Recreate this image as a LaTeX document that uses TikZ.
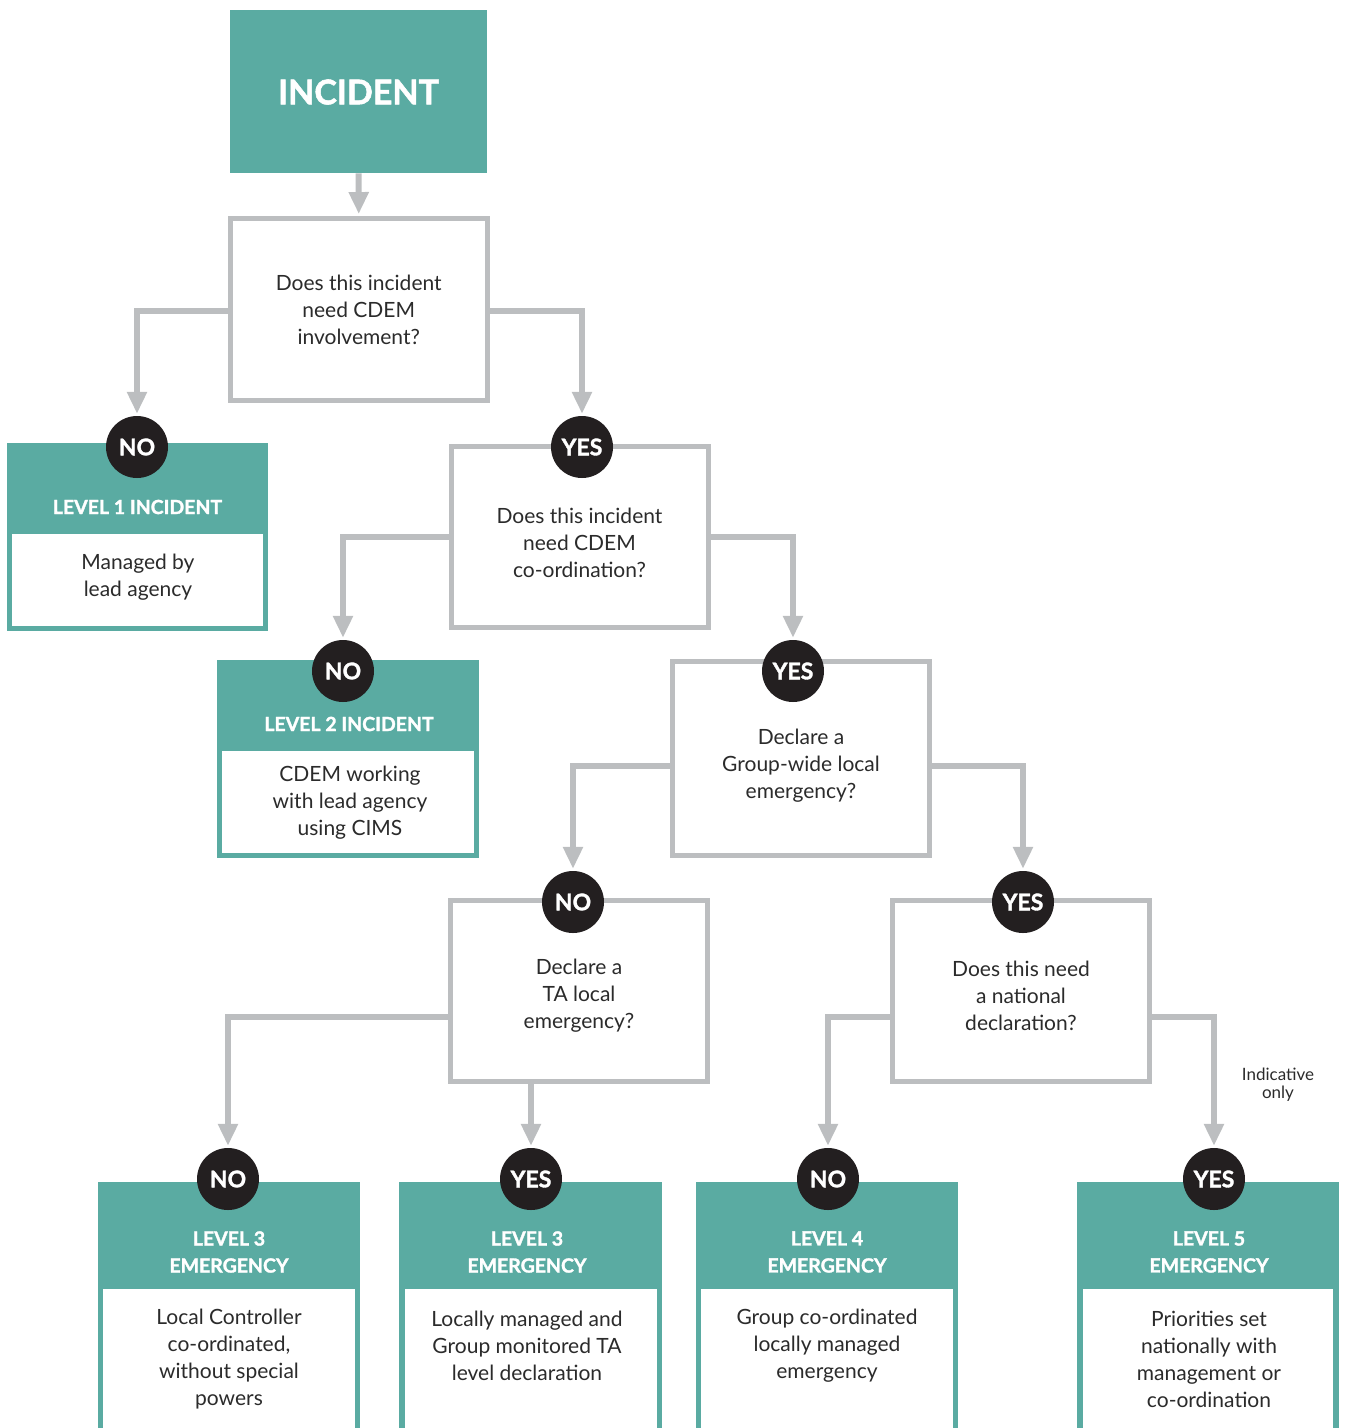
\documentclass[tikz,border=0pt]{standalone}
\usepackage{fontspec}
\setmainfont{Lato}
\newfontfamily\heavyfont{Lato}[BoldFeatures={FakeBold=1.6}]
\usetikzlibrary{arrows.meta}
\definecolor{tealc}{HTML}{5AABA2}
\definecolor{grayline}{HTML}{BCBEC0}
\definecolor{darkc}{HTML}{231F20}
\definecolor{txtc}{HTML}{2B2B2B}
\pgfdeclarelayer{front}
\pgfsetlayers{main,front}
\begin{document}
\begin{tikzpicture}[x=1pt,y=-1pt,
  qbox/.style={draw=grayline, line width=5pt, fill=white, minimum width=257pt, inner sep=0pt},
  qtext/.style={text=txtc, font=\fontsize{21}{27}\selectfont, align=center, inner sep=0pt},
  conn/.style={draw=grayline, line width=6pt, -{Triangle[length=22pt,width=19pt]}, shorten >=2pt},
  tealbox/.style={fill=tealc, inner sep=0pt, anchor=north west},
  whitebox/.style={fill=white, inner sep=0pt, anchor=north west},
  head/.style={text=white, font=\heavyfont\bfseries\fontsize{19.5}{27}\selectfont, align=center, inner sep=0pt},
  body/.style={text=txtc, font=\fontsize{21}{27}\selectfont, align=center, inner sep=0pt},
  badge/.style={circle, fill=darkc, minimum size=62pt, inner sep=0pt, text=white, font=\heavyfont\bfseries\fontsize{23}{23}\selectfont}
]
\useasboundingbox (0,0) rectangle (1346,1428);
\clip (0,0) rectangle (1346,1428);

% incident
\node[tealbox, minimum width=257pt, minimum height=163pt] (inc) at (230,10) {};
\node[text=white, font=\heavyfont\bfseries\fontsize{34}{40}\selectfont, inner sep=0pt] (inct) at (358.5,92) {INCIDENT};

% level 1
\node[tealbox, minimum width=261pt, minimum height=188pt] (l1) at (7,443) {};
\node[whitebox, minimum width=251pt, minimum height=92pt] (l1w) at (12,534) {};
\node[head] (l1h) at (137.5,507) {LEVEL 1 INCIDENT};
\node[body] (l1b) at (138,577) {Managed by\\lead agency};

% level 2
\node[tealbox, minimum width=262pt, minimum height=198pt] (l2) at (217,660) {};
\node[whitebox, minimum width=252pt, minimum height=102pt] (l2w) at (222,751) {};
\node[head] (l2h) at (349,724) {LEVEL 2 INCIDENT};
\node[body] (l2b) at (350,803) {CDEM working\\with lead agency\\using CIMS};

% level 3a
\node[tealbox, minimum width=262pt, minimum height=260pt] (l3a) at (98,1182) {};
\node[whitebox, minimum width=252pt, minimum height=160pt] (l3aw) at (103,1289) {};
\node[head] (l3ah) at (229,1252) {LEVEL 3\\EMERGENCY};
\node[body] (l3ab) at (229,1359) {Local Controller\\co-ordinated,\\without special\\powers};

% level 3b
\node[tealbox, minimum width=263pt, minimum height=260pt] (l3b) at (399,1182) {};
\node[whitebox, minimum width=252pt, minimum height=160pt] (l3bw) at (405,1289) {};
\node[head] (l3bh) at (527,1252) {LEVEL 3\\EMERGENCY};
\node[body] (l3bb) at (527,1346) {Locally managed and\\Group monitored TA\\level declaration};

% level 4
\node[tealbox, minimum width=262pt, minimum height=260pt] (l4) at (696,1182) {};
\node[whitebox, minimum width=252pt, minimum height=160pt] (l4w) at (701,1289) {};
\node[head] (l4h) at (827,1252) {LEVEL 4\\EMERGENCY};
\node[body] (l4b) at (827,1346) {Group co-ordinated\\locally managed\\emergency};

% level 5
\node[tealbox, minimum width=262pt, minimum height=260pt] (l5) at (1077,1182) {};
\node[whitebox, minimum width=250pt, minimum height=160pt] (l5w) at (1083,1289) {};
\node[head] (l5h) at (1209,1252) {LEVEL 5\\EMERGENCY};
\node[body] (l5b) at (1209,1359) {Priorities set\\nationally with\\management or\\co-ordination};

% questions
\node[qbox, minimum height=182pt] (q1) at (358.75,309.5) {};
\node[qtext] (q1t) at (358.75,310) {Does this incident\\need CDEM\\involvement?};
\node[qbox, minimum height=181pt] (q2) at (579.5,537) {};
\node[qtext] (q2t) at (579.5,543) {Does this incident\\need CDEM\\co-ordination?};
\node[qbox, minimum height=194pt] (q3) at (801,758.5) {};
\node[qtext] (q3t) at (801,766) {Declare a\\Group-wide local\\emergency?};
\node[qbox, minimum height=181pt] (q4) at (579,991) {};
\node[qtext] (q4t) at (579,996) {Declare a\\TA local\\emergency?};
\node[qbox, minimum height=181pt] (q5) at (1021,991) {};
\node[qtext] (q5t) at (1021,996) {Does this need\\a national\\declaration?};

\node[text=txtc, font=\fontsize{17}{18}\selectfont, align=center, inner sep=0pt] (ind) at (1278,1085) {Indicative\\only};

% badges
\begin{pgfonlayer}{front}
\node[badge] (c1) at (137,447) {NO};
\node[badge] (c2) at (582,447) {YES};
\node[badge] (c3) at (343,671) {NO};
\node[badge] (c4) at (793,671) {YES};
\node[badge] (c5) at (573,902) {NO};
\node[badge] (c6) at (1023,902) {YES};
\node[badge] (c7) at (228,1179) {NO};
\node[badge] (c8) at (531,1179) {YES};
\node[badge] (c9) at (828,1179) {NO};
\node[badge] (c10) at (1214,1179) {YES};
\end{pgfonlayer}

% connectors
\draw[conn] (inc.south) -- (q1.north);
\draw[conn] ([yshift=-1.5pt]q1.west) -| (c1.north);
\draw[conn] ([yshift=-1.5pt]q1.east) -| (c2.north);
\draw[conn] (q2.west) -| (c3.north);
\draw[conn] (q2.east) -| (c4.north);
\draw[conn] ([yshift=-7.5pt]q3.west) -| (c5.north);
\draw[conn] ([yshift=-7.5pt]q3.east) -| (c6.north);
\draw[conn] ([yshift=-26pt]q4.west) -| (c7.north);
\draw[conn] (q4.south -| c8.north) -- (c8.north);
\draw[conn] ([yshift=-26pt]q5.west) -| (c9.north);
\draw[conn] ([yshift=-26pt]q5.east) -| (c10.north);
\end{tikzpicture}
\end{document}
